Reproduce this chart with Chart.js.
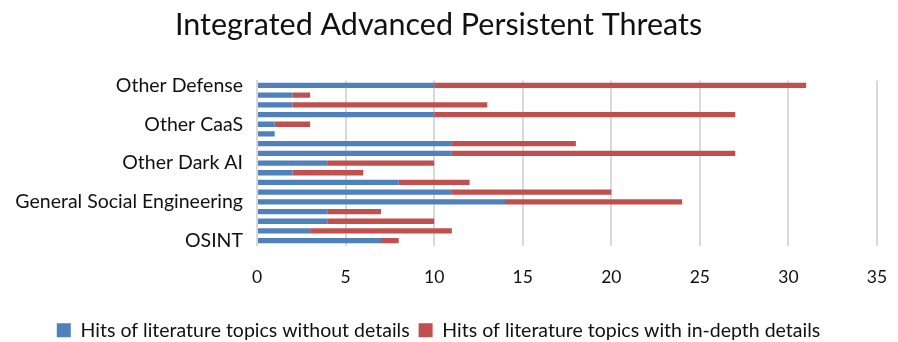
<!DOCTYPE html>
<html>
<head>
<meta charset="utf-8">
<script src="https://cdn.jsdelivr.net/npm/chart.js@4"></script>
<style>
  html, body { margin: 0; padding: 0; background: #ffffff; }
  #wrap { width: 898px; height: 342px; }
</style>
</head>
<body>
<div id="wrap"><canvas id="c" width="898" height="342"></canvas></div>
<script>
// Threat categories, listed top to bottom; only every fourth one is labelled on the axis.
const categories = [
  "Other Defense", "", "", "",
  "Other CaaS", "", "", "",
  "Other Dark AI", "", "", "",
  "General Social Engineering", "", "", "",
  "OSINT"
];
const hitsWithoutDetails = [10, 2, 2, 10, 1, 1, 11, 11, 4, 2, 8, 11, 14, 4, 4, 3, 7];
const hitsInDepthDetails = [21, 1, 11, 17, 2, 0, 7, 16, 6, 4, 4, 9, 10, 3, 6, 8, 1];
const xTicks = [0, 5, 10, 15, 20, 25, 30, 35];

const FONT = "Lato, 'Open Sans', sans-serif";

new Chart(document.getElementById("c"), {
  type: "bar",
  data: {
    labels: categories,
    datasets: [
      {
        label: "Hits of literature topics without details",
        data: hitsWithoutDetails,
        backgroundColor: "#4F81BD",
        barPercentage: 0.55,
        categoryPercentage: 1.0
      },
      {
        label: "Hits of literature topics with in-depth details",
        data: hitsInDepthDetails,
        backgroundColor: "#C0504D",
        barPercentage: 0.55,
        categoryPercentage: 1.0
      }
    ]
  },
  options: {
    indexAxis: "y",
    responsive: false,
    animation: false,
    layout: { padding: { left: 0, right: 21, top: 0, bottom: -8 } },
    scales: {
      x: {
        stacked: true,
        min: xTicks[0],
        max: xTicks[xTicks.length - 1],
        afterBuildTicks: (scale) => { scale.ticks = xTicks.map(v => ({ value: v })); },
        afterFit: (scale) => {
          scale.height = 66;
          scale.paddingLeft = 0;
          scale.paddingRight = 0;
        },
        grid: { color: "#d9d9d9", lineWidth: 2, drawTicks: false },
        border: { display: false },
        ticks: { color: "#111", padding: 21, font: { family: FONT, size: 17.5 } }
      },
      y: {
        stacked: true,
        afterFit: (scale) => {
          scale.width = 257;
          scale.paddingTop = 0;
          scale.paddingBottom = 0;
        },
        grid: { display: false, drawTicks: false },
        border: { display: true, color: "#d9d9d9", width: 2 },
        ticks: { autoSkip: false, color: "#111", padding: 14, font: { family: FONT, size: 19.5 } }
      }
    },
    plugins: {
      title: {
        display: true,
        text: "Integrated Advanced Persistent Threats",
        color: "#111",
        font: { family: FONT, size: 30.5, weight: "normal" },
        padding: { top: 7, bottom: 37 }
      },
      legend: {
        position: "bottom",
        labels: {
          color: "#111",
          boxWidth: 14,
          boxHeight: 14,
          padding: 9,
          font: { family: FONT, size: 19.5 }
        }
      },
      tooltip: { enabled: false }
    }
  }
});
</script>
</body>
</html>
